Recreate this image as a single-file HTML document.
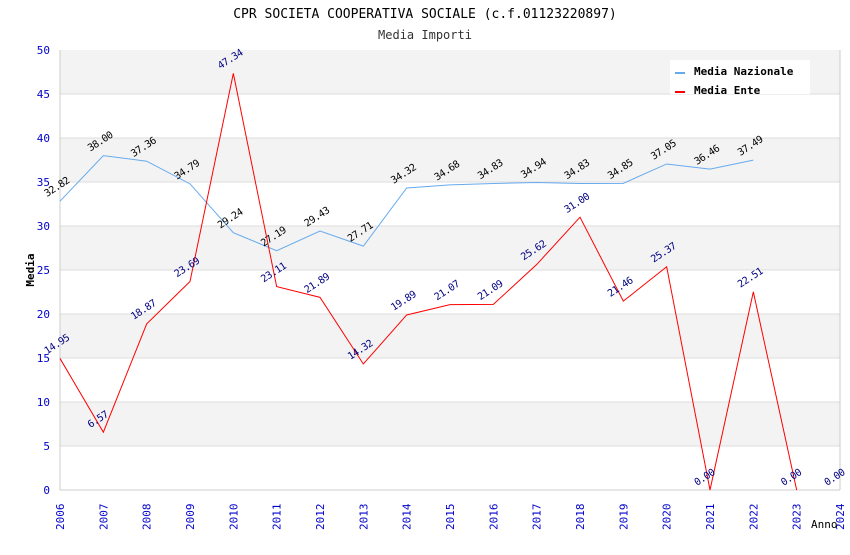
<!DOCTYPE html>
<html><head><meta charset="utf-8"><style>
body{margin:0;background:#fff}
svg text{font-family:"DejaVu Sans Mono","Liberation Mono",monospace}
</style></head><body>
<svg id="c" width="850" height="550" xmlns="http://www.w3.org/2000/svg"></svg>
<script>
const years=[2006,2007,2008,2009,2010,2011,2012,2013,2014,2015,2016,2017,2018,2019,2020,2021,2022,2023,2024];
const nazionale=[32.82,38.00,37.36,34.79,29.24,27.19,29.43,27.71,34.32,34.68,34.83,34.94,34.83,34.85,37.05,36.46,37.49];
const ente=[14.95,6.57,18.87,23.69,47.34,23.11,21.89,14.32,19.89,21.07,21.09,25.62,31.00,21.46,25.37,0.00,22.51,0.00,0.00];
const yTicks=[0,5,10,15,20,25,30,35,40,45,50];
const svg=document.getElementById('c');const NS='http://www.w3.org/2000/svg';
const X0=60,X1=840,Y0=490,Y1=50;
const x=i=>X0+(X1-X0)*i/(years.length-1);
const y=v=>Y0-(Y0-Y1)*v/50;
function el(t,a,p){const e=document.createElementNS(NS,t);for(const k in a)e.setAttribute(k,a[k]);(p||svg).appendChild(e);return e;}
for(let i=0;i<yTicks.length-1;i++){
 const r=el('rect',{x:X0,y:y(yTicks[i+1]),width:X1-X0,height:y(yTicks[i])-y(yTicks[i+1]),fill:i%2?'#f3f3f3':'#fff'});
 
 
 const l=el('line',{x1:X0,x2:X1,y1:y(yTicks[i]),y2:y(yTicks[i]),stroke:'#ddd'});
 
 
}
el('line',{x1:X0,x2:X0,y1:Y1,y2:Y0,stroke:'#ccc'});
el('line',{x1:X1,x2:X1,y1:Y1,y2:Y0,stroke:'#ccc'});
el('line',{x1:X0,x2:X1,y1:Y0,y2:Y0,stroke:'#ccc'});
yTicks.forEach(v=>{const t=el('text',{x:50,y:y(v)+4,'text-anchor':'end','font-size':11,fill:'#0000cc'});t.textContent=v;
 
 });
years.forEach((yr,i)=>{const t=el('text',{transform:`translate(${x(i)+4},${Y0+40}) rotate(-90)`,'font-size':11,fill:'#0000cc'});t.textContent=yr;
 
 });
function series(arr,col,lab,name,n){
 const pts=arr.slice(0,n).map((v,i)=>x(i)+','+y(v)).join(' ');
 const p=el('polyline',{points:pts,fill:'none',stroke:col,'stroke-width':1});
 
 
 arr.forEach((v,i)=>{const t=el('text',{transform:`translate(${x(i)-13},${y(v)-4}) rotate(-33)`,'font-size':10,'letter-spacing':'-0.5',fill:lab});t.textContent=v.toFixed(2);
  
  });
}
series(nazionale,'#66aaee','#000','nazionale',nazionale.length);
series(ente,'#ff0000','#000080','ente',18);
const tt=el('text',{x:425,y:18,'text-anchor':'middle','font-size':13,fill:'#000'});tt.textContent='CPR SOCIETA COOPERATIVA SOCIALE (c.f.01123220897)';

const st=el('text',{x:425,y:39,'text-anchor':'middle','font-size':12,fill:'#333'});st.textContent='Media Importi';

const ya=el('text',{transform:'translate(34,270) rotate(-90)','text-anchor':'middle','font-size':11,'font-weight':'bold',fill:'#000'});ya.textContent='Media';

const xa=el('text',{x:811,y:528,'font-size':11,fill:'#000'});xa.textContent='Anno';

const lg=el('g',{});
el('rect',{x:670,y:60,width:140,height:34,fill:'#fff'},lg);
el('rect',{x:675,y:72,width:10,height:2,fill:'#66aaee'},lg);
el('rect',{x:675,y:91,width:10,height:2,fill:'#ff0000'},lg);
const l1=el('text',{x:694,y:75,'font-size':11,'font-weight':'bold'},lg);l1.textContent='Media Nazionale';

const l2=el('text',{x:694,y:94,'font-size':11,'font-weight':'bold'},lg);l2.textContent='Media Ente';

</script>
</body></html>
